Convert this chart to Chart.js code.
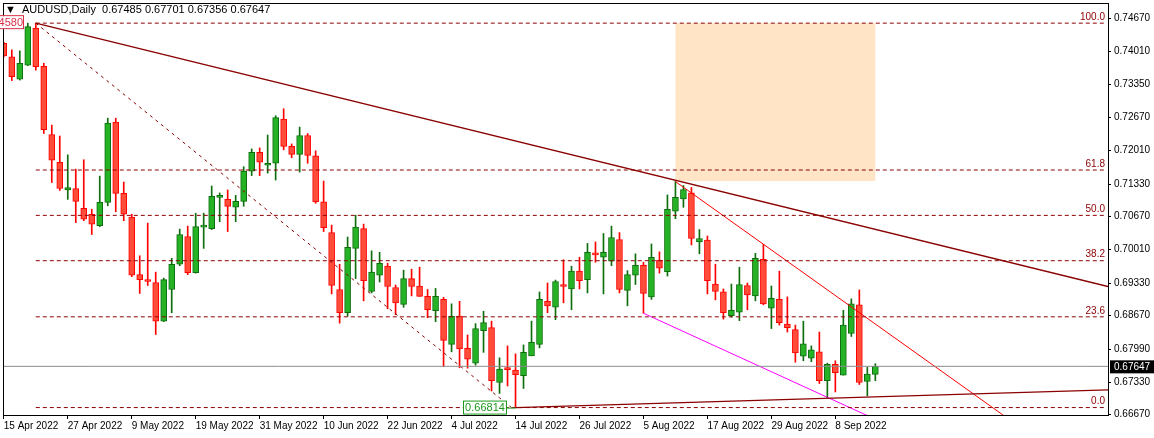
<!DOCTYPE html>
<html>
<head>
<meta charset="utf-8">
<script src="https://cdn.jsdelivr.net/npm/chart.js@4.4.1/dist/chart.umd.min.js"></script>
<style>
  html, body { margin: 0; padding: 0; background: #fff; }
  #wrap { width: 1154px; height: 438px; }
</style>
</head>
<body>
<div id="wrap"><canvas id="c"></canvas></div>
<script>
// daily AUDUSD candles, index 0 = 15 Apr 2022
const opens = [0.7417,0.7390,0.7345,0.7373,0.7448,0.7371,0.7233,0.7177,0.7121,0.7124,
  0.7084,0.7072,0.7049,0.7096,0.7258,0.7114,0.7066,0.6950,0.6937,0.6934,
  0.6856,0.6920,0.6971,0.7027,0.6954,0.7046,0.7043,0.7106,0.7102,0.7086,
  0.7098,0.7159,0.7197,0.7171,0.7175,0.7264,0.7209,0.7193,0.7231,0.7190,
  0.7097,0.7035,0.6920,0.6873,0.7003,0.7043,0.6916,0.6949,0.6967,0.6924,
  0.6890,0.6942,0.6927,0.6906,0.6877,0.6900,0.6809,0.6866,0.6801,0.6771,
  0.6837,0.6843,0.6732,0.6759,0.6757,0.6746,0.6786,0.6809,0.6896,0.6884,
  0.6928,0.6921,0.6957,0.6940,0.6992,0.6985,0.6977,0.7021,0.6918,0.6949,
  0.6969,0.6905,0.6979,0.6956,0.7078,0.7103,0.7115,0.7016,0.7020,0.6931,
  0.6915,0.6867,0.6874,0.6928,0.6907,0.6981,0.6882,0.6900,0.6850,0.6839,
  0.6785,0.6781,0.6794,0.6736,0.6769,0.6747,0.6831,0.6889,0.6734,0.67485];
const highs = [0.7419,0.7404,0.7402,0.7458,0.7458,0.7377,0.7252,0.7230,0.7192,0.7163,
  0.7182,0.7082,0.7149,0.7266,0.7266,0.7137,0.7072,0.6988,0.7054,0.6955,
  0.6943,0.6983,0.7042,0.7048,0.7074,0.7074,0.7129,0.7115,0.7121,0.7110,
  0.7168,0.7204,0.7206,0.7232,0.7271,0.7285,0.7214,0.7248,0.7235,0.7200,
  0.7139,0.7050,0.6971,0.7026,0.7070,0.7052,0.6998,0.6995,0.6973,0.6929,
  0.6959,0.6961,0.6965,0.6920,0.6922,0.6904,0.6891,0.6896,0.6828,0.6851,
  0.6876,0.6856,0.6782,0.6806,0.6790,0.6808,0.6856,0.6915,0.6933,0.6939,
  0.6980,0.6967,0.6985,0.7013,0.7016,0.7033,0.7048,0.7035,0.6958,0.6992,
  0.6975,0.7012,0.6996,0.7111,0.7138,0.7130,0.7126,0.7041,0.7028,0.6971,
  0.6921,0.6931,0.6965,0.6933,0.6993,0.7011,0.6927,0.6957,0.6905,0.6848,
  0.6856,0.6806,0.6834,0.6771,0.6776,0.6878,0.6901,0.6919,0.6763,0.67701];
const lows = [0.7390,0.7342,0.7343,0.7372,0.7363,0.7235,0.7136,0.7120,0.7102,0.7055,
  0.7059,0.7031,0.7047,0.7089,0.7077,0.7059,0.6946,0.6912,0.6928,0.6829,
  0.6855,0.6873,0.6968,0.6950,0.6953,0.7003,0.7041,0.7057,0.7037,0.7057,
  0.7088,0.7150,0.7150,0.7155,0.7141,0.7202,0.7186,0.7157,0.7175,0.7094,
  0.7037,0.6911,0.6852,0.6866,0.6942,0.6897,0.6913,0.6935,0.6881,0.6869,
  0.6884,0.6907,0.6906,0.6863,0.6855,0.6764,0.6794,0.6762,0.6761,0.6767,
  0.6793,0.6715,0.6710,0.6725,0.66814,0.6720,0.6786,0.6802,0.6873,0.6859,
  0.6893,0.6879,0.6921,0.6913,0.6975,0.6911,0.6968,0.6913,0.6887,0.6930,
  0.6872,0.6900,0.6953,0.6947,0.7063,0.7086,0.7010,0.6992,0.6911,0.6899,
  0.6860,0.6864,0.6857,0.6879,0.6897,0.6889,0.6841,0.6848,0.6834,0.6773,
  0.6776,0.6774,0.6730,0.6701,0.6713,0.6747,0.6825,0.6728,0.6705,0.67356];
const closes = [0.7392,0.7350,0.7377,0.7451,0.7370,0.7243,0.7181,0.7124,0.7126,0.7098,
  0.7062,0.7052,0.7096,0.7256,0.7114,0.7072,0.6949,0.6940,0.6936,0.6856,
  0.6940,0.6971,0.7031,0.6954,0.7047,0.7048,0.7108,0.7107,0.7088,0.7098,
  0.7159,0.7197,0.7177,0.7175,0.7267,0.7209,0.7193,0.7231,0.7191,0.7097,
  0.7045,0.6928,0.6873,0.7005,0.7046,0.6938,0.6955,0.6973,0.6926,0.6893,
  0.6942,0.6926,0.6906,0.6879,0.6906,0.6817,0.6866,0.6800,0.6779,0.6841,
  0.6853,0.6736,0.6759,0.6758,0.6748,0.6793,0.6813,0.6900,0.6887,0.6936,
  0.6926,0.6957,0.6938,0.6995,0.6990,0.6995,0.7025,0.6920,0.6950,0.6969,
  0.6912,0.6985,0.6963,0.7082,0.7106,0.7122,0.7023,0.7023,0.6938,0.6916,
  0.6873,0.6878,0.6930,0.6909,0.6983,0.6891,0.6902,0.6853,0.6843,0.6792,
  0.6810,0.6798,0.6736,0.6769,0.6752,0.6848,0.6891,0.6732,0.6749,0.67647];

const dateLabels = ['15 Apr 2022','27 Apr 2022','9 May 2022','19 May 2022','31 May 2022','10 Jun 2022',
  '22 Jun 2022','4 Jul 2022','14 Jul 2022','26 Jul 2022','5 Aug 2022','17 Aug 2022','29 Aug 2022','8 Sep 2022'];
const dateIndex = [0,8,16,24,32,40,48,56,64,72,80,88,96,104];
const priceTicks = [0.66670,0.67330,0.67990,0.68670,0.69330,0.70010,0.70670,0.71330,0.72010,0.72670,0.73350,0.74010,0.74670];

const fibNames = ['100.0','61.8','50.0','38.2','23.6','0.0'];
const fibValues = [0.74580,0.71613,0.70697,0.69781,0.68647,0.66814];
const lastPrice = 0.67647;

const X_MIN = -0.1, X_MAX = 138.1;
const RED = '#ff0000', RED_FILL = '#ff4d3a', GREEN = '#0e6e0e', GREEN_FILL = '#25b225', DARK = '#8b0000';

const up = closes.map((c, i) => c >= opens[i]);

function line(points, color, width, dash) {
  return {
    type: 'line', data: points, borderColor: color, borderWidth: width || 1,
    borderDash: dash || [], pointRadius: 0, fill: false, tension: 0, order: 0
  };
}

const datasets = [
  {
    type: 'bar', label: 'wick',
    data: opens.map((_, i) => ({ x: i, y: [lows[i], highs[i]] })),
    backgroundColor: up.map(u => u ? GREEN : RED),
    barThickness: 1, borderWidth: 0, grouped: false, order: 2
  },
  {
    type: 'bar', label: 'body',
    data: opens.map((o, i) => ({ x: i, y: [Math.min(o, closes[i]), Math.max(o, closes[i])] })),
    backgroundColor: up.map(u => u ? GREEN_FILL : RED_FILL),
    borderColor: up.map(u => u ? GREEN : RED),
    borderWidth: 1, borderSkipped: false, barThickness: 6, minBarLength: 2, grouped: false, order: 1
  }
];
fibValues.forEach(v => datasets.push(line([{ x: 4, y: v }, { x: 137.8, y: v }], DARK, 1, [4, 3])));
datasets.push(line([{ x: -1, y: lastPrice }, { x: X_MAX, y: lastPrice }], '#8c8c8c', 1));
// trend lines
datasets.push(line([{ x: 4, y: 0.7458 }, { x: X_MAX, y: 0.6926 }], DARK, 1.3));
datasets.push(line([{ x: 4, y: 0.7458 }, { x: 63.5, y: 0.66814 }], DARK, 1, [3, 4]));
datasets.push(line([{ x: 64, y: 0.66814 }, { x: X_MAX, y: 0.6717 }], DARK, 1.3));
datasets.push(line([{ x: 84, y: 0.7138 }, { x: 125, y: 0.6666 }], RED, 1));
datasets.push(line([{ x: 80, y: 0.6872 }, { x: 108.3, y: 0.6663 }], '#ff00ff', 1));

const overlay = {
  id: 'overlay',
  beforeDatasetsDraw(chart) {
    const { ctx, scales: { x, y } } = chart;
    ctx.save();
    ctx.fillStyle = '#ffe4c6';
    const x0 = x.getPixelForValue(84), x1 = x.getPixelForValue(109);
    const y0 = y.getPixelForValue(0.7458), y1 = y.getPixelForValue(0.7139);
    ctx.fillRect(x0, y0, x1 - x0, y1 - y0);
    ctx.restore();
  },
  afterDraw(chart) {
    const { ctx, chartArea: a, scales: { x, y } } = chart;
    ctx.save();
    ctx.strokeStyle = '#000';
    ctx.lineWidth = 1;
    ctx.strokeRect(a.left + 0.5, a.top + 0.5, a.right - a.left, a.bottom - a.top);
    ctx.font = '10px "Liberation Sans", Arial, sans-serif';
    // fib labels
    ctx.fillStyle = DARK;
    ctx.textAlign = 'right';
    ctx.textBaseline = 'bottom';
    fibValues.forEach((v, i) => ctx.fillText(fibNames[i], a.right - 3, y.getPixelForValue(v) - 1));
    // header
    ctx.fillStyle = '#000';
    ctx.textAlign = 'left';
    ctx.textBaseline = 'middle';
    ctx.font = '11px "Liberation Sans", Arial, sans-serif';
    ctx.fillText('\u25BC  AUDUSD,Daily  0.67485 0.67701 0.67356 0.67647', 5, 10);
    // high price box
    const yh = y.getPixelForValue(0.7458);
    ctx.fillStyle = '#fff';
    ctx.fillRect(-20, yh - 7, 44, 13);
    ctx.strokeStyle = '#d9304a';
    ctx.strokeRect(-20.5, yh - 7.5, 44, 13);
    ctx.fillStyle = '#d9304a';
    ctx.textAlign = 'right';
    ctx.fillText('0.74580', 23, yh);
    // low price box
    const yl = y.getPixelForValue(0.66814);
    const bx = 463;
    ctx.fillStyle = '#fff';
    ctx.fillRect(bx, yl - 7, 43, 13);
    ctx.strokeStyle = '#1a9a1a';
    ctx.strokeRect(bx + 0.5, yl - 6.5, 43, 13);
    ctx.beginPath();
    ctx.moveTo(bx + 43, yl + 0.5);
    ctx.lineTo(x.getPixelForValue(64), yl + 0.5);
    ctx.stroke();
    ctx.fillStyle = '#1a9a1a';
    ctx.textAlign = 'center';
    ctx.fillText('0.66814', bx + 22, yl);
    // last price tag
    const yp = y.getPixelForValue(lastPrice);
    ctx.fillStyle = '#000';
    ctx.fillRect(a.right + 2, yp - 6, 44, 13);
    ctx.fillStyle = '#fff';
    ctx.textAlign = 'left';
    ctx.font = '10px "Liberation Sans", Arial, sans-serif';
    ctx.fillText(lastPrice.toFixed(5), a.right + 6, yp + 1);
    ctx.restore();
  }
};

new Chart(document.getElementById('c'), {
  data: { datasets },
  options: {
    responsive: true,
    maintainAspectRatio: false,
    animation: false,
    events: [],
    layout: { padding: { left: 3, top: 3, right: 0, bottom: 0 } },
    plugins: { legend: { display: false }, tooltip: { enabled: false } },
    scales: {
      x: {
        type: 'linear', min: X_MIN, max: X_MAX, offset: false, bounds: 'ticks',
        afterBuildTicks: s => { s.ticks = dateIndex.map(v => ({ value: v })); },
        afterFit: s => { s.height = 23; s.paddingLeft = 0; s.paddingRight = 0; },
        grid: { drawOnChartArea: false, color: '#000', tickLength: 4, offset: false },
        border: { display: false },
        ticks: {
          autoSkip: false, maxRotation: 0, align: 'start', padding: 1, color: '#000',
          font: { family: '"Liberation Sans", Arial, sans-serif', size: 10 },
          callback: v => dateLabels[dateIndex.indexOf(v)] || ''
        }
      },
      y: {
        position: 'right', min: 0.66664, max: 0.74987,
        afterBuildTicks: s => { s.ticks = priceTicks.map(v => ({ value: v })); },
        afterFit: s => { s.width = 46; s.paddingTop = 0; s.paddingBottom = 0; },
        grid: { drawOnChartArea: false, color: '#000', tickLength: 3 },
        border: { display: false },
        ticks: {
          padding: 3, color: '#000',
          font: { family: '"Liberation Sans", Arial, sans-serif', size: 10 },
          callback: v => Number(v).toFixed(5)
        }
      }
    }
  },
  plugins: [overlay]
});
</script>
</body>
</html>
